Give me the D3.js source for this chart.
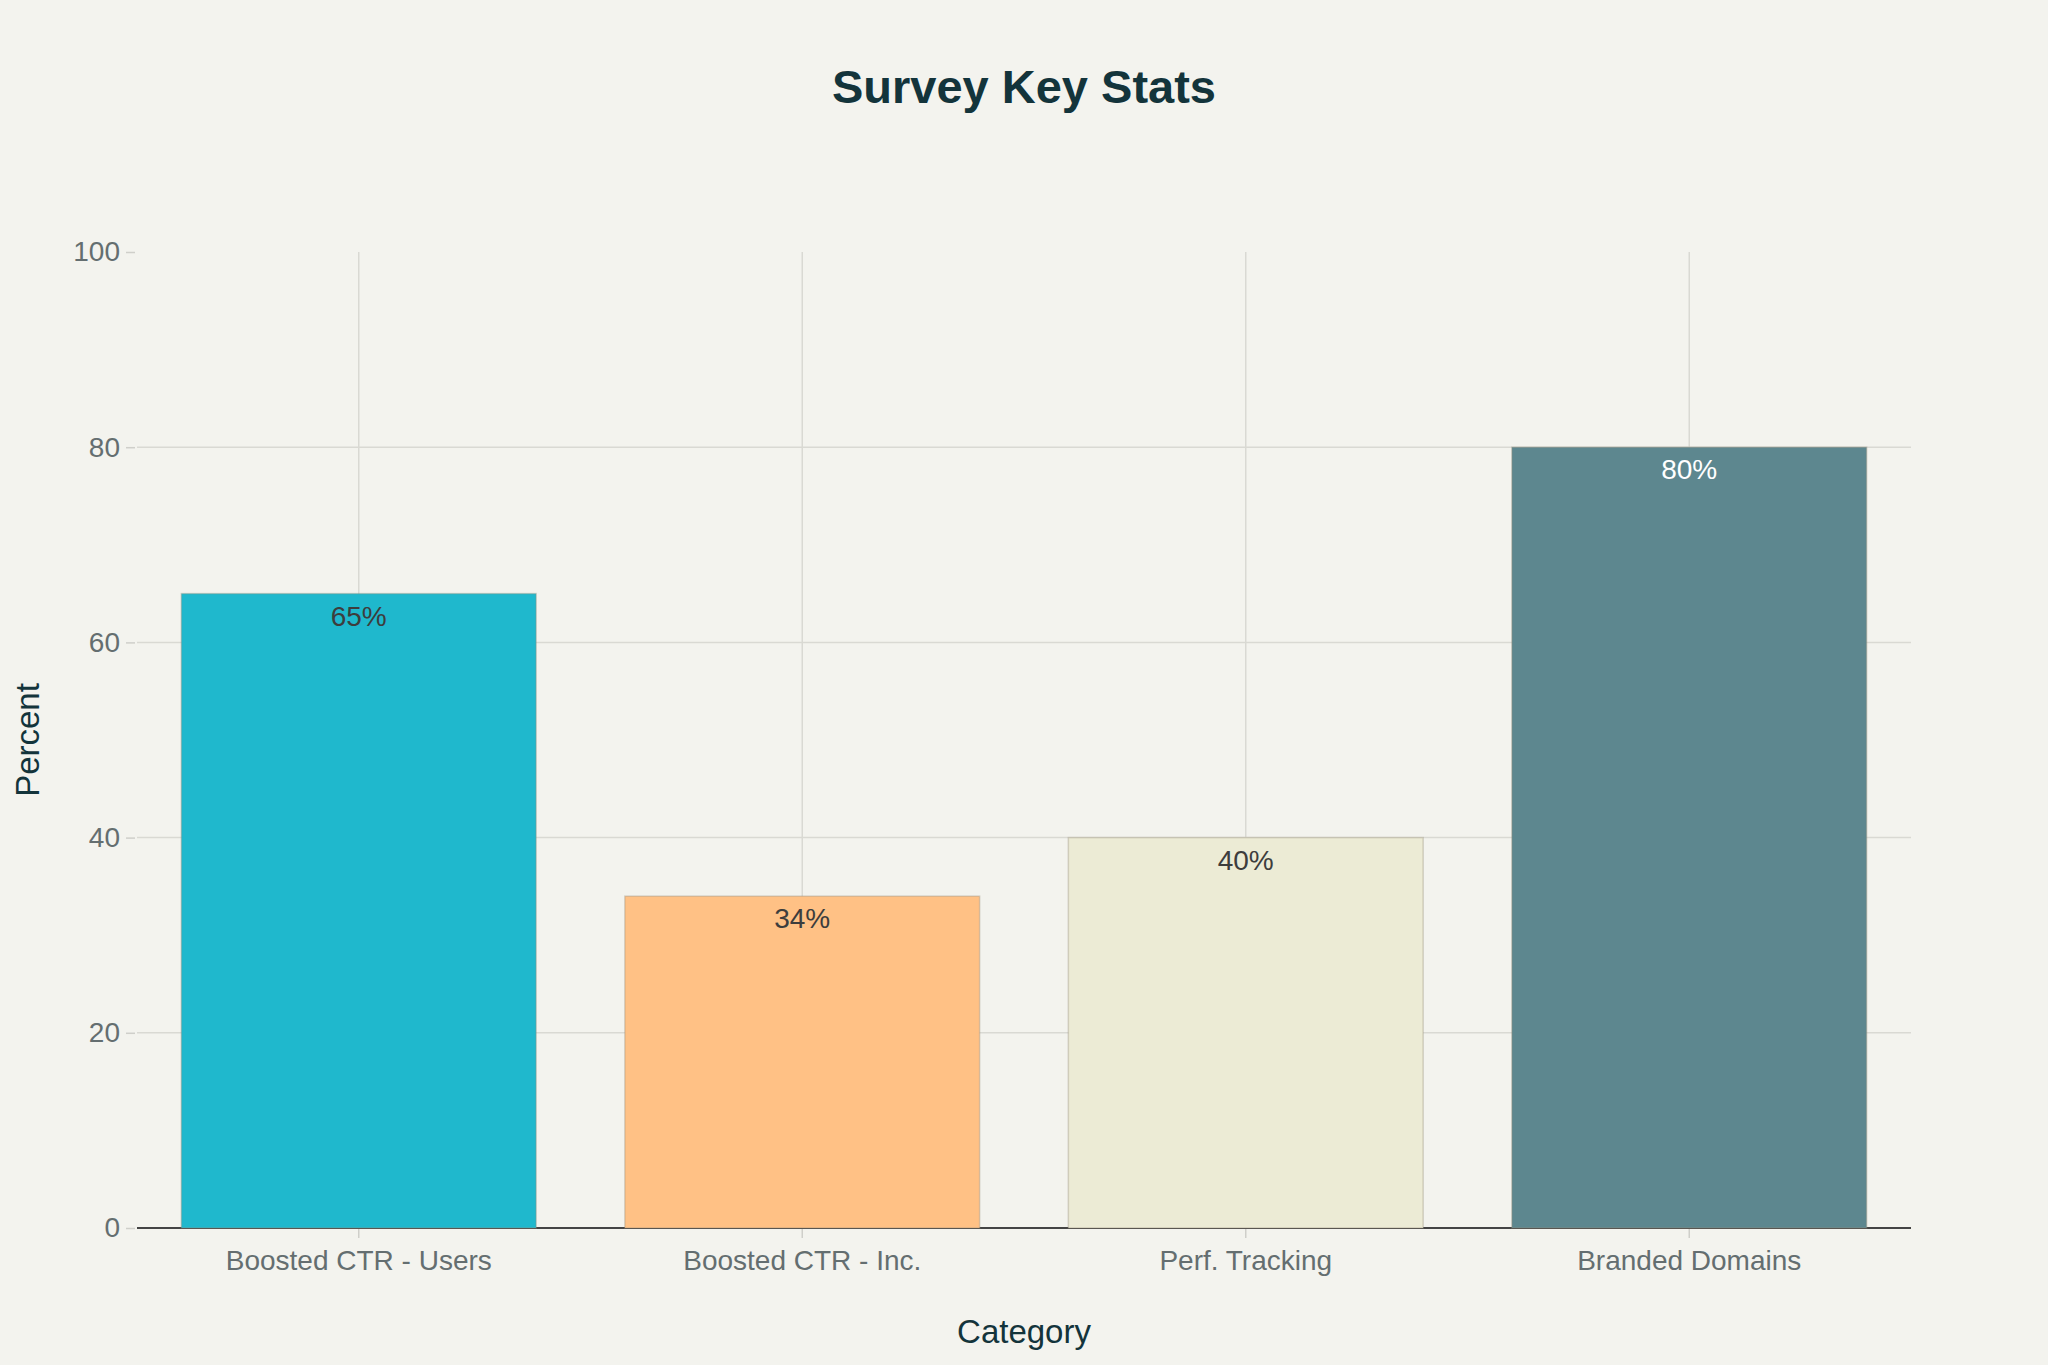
<!DOCTYPE html>
<html>
<head>
<meta charset="utf-8">
<script src="https://cdn.jsdelivr.net/npm/d3@7"></script>
<style>
  html, body { margin: 0; padding: 0; background: #F3F3EE; }
  svg { display: block; font-family: "Liberation Sans", Arial, sans-serif; }
</style>
</head>
<body>
<div id="chart"></div>
<script>
// data
const categories = ['Boosted CTR - Users', 'Boosted CTR - Inc.', 'Perf. Tracking', 'Branded Domains'];
const values = [65, 34, 40, 80];
const barColors = ['#1FB8CD', '#FFC185', '#ECEBD5', '#5D878F'];
const labelColors = ['#3d3d3d', '#3d3d3d', '#3d3d3d', '#ffffff'];
const yTicks = [0, 20, 40, 60, 80, 100];

const W = 2048, H = 1365;
const margin = {top: 252, right: 137, bottom: 137, left: 137};
const width = W - margin.left - margin.right;
const height = H - margin.top - margin.bottom;

const svg = d3.select('#chart')
    .append('svg')
    .attr('width', W)
    .attr('height', H);

svg.append('rect')
    .attr('width', W)
    .attr('height', H)
    .attr('fill', '#F3F3EE');

const g = svg.append('g')
    .attr('transform', `translate(${margin.left},${margin.top})`);

// scales
const x = d3.scaleBand()
    .domain(categories)
    .range([0, width])
    .paddingInner(0.2)
    .paddingOuter(0.1);

const y = d3.scaleLinear()
    .domain([0, 100])
    .range([height, 0]);

// gridlines
g.append('g')
    .selectAll('line')
    .data(yTicks.filter(d => d > 0 && d < 100))
    .enter()
    .append('line')
    .attr('x1', 0)
    .attr('x2', width)
    .attr('y1', d => y(d))
    .attr('y2', d => y(d))
    .attr('stroke', '#d9d9d3')
    .attr('stroke-width', 1.5);

g.append('g')
    .selectAll('line')
    .data(categories)
    .enter()
    .append('line')
    .attr('x1', d => x(d) + x.bandwidth() / 2)
    .attr('x2', d => x(d) + x.bandwidth() / 2)
    .attr('y1', 0)
    .attr('y2', height)
    .attr('stroke', '#d9d9d3')
    .attr('stroke-width', 1.5);

// y axis
const yAxis = g.append('g')
    .attr('transform', 'translate(-2,0)')
    .call(d3.axisLeft(y).tickValues(yTicks).tickSize(9).tickPadding(6));
yAxis.select('.domain').remove();
yAxis.selectAll('.tick line').attr('stroke', '#cfcfca').attr('stroke-width', 1.5);
yAxis.selectAll('.tick text')
    .attr('fill', '#646e70')
    .style('font-size', '28px');

// x axis
const xAxis = g.append('g')
    .attr('transform', `translate(0,${height})`)
    .call(d3.axisBottom(x).tickSize(10).tickPadding(12));
xAxis.select('.domain').remove();
xAxis.selectAll('.tick line').attr('stroke', '#cfcfca').attr('stroke-width', 1.5);
xAxis.selectAll('.tick text')
    .attr('fill', '#646e70')
    .style('font-size', '28px');

// zero line
g.append('line')
    .attr('x1', 0)
    .attr('x2', width)
    .attr('y1', y(0))
    .attr('y2', y(0))
    .attr('stroke', '#444444')
    .attr('stroke-width', 2);

// bars
g.selectAll('.bar')
    .data(values)
    .enter()
    .append('rect')
    .attr('class', 'bar')
    .attr('x', (d, i) => x(categories[i]))
    .attr('y', d => y(d))
    .attr('width', x.bandwidth())
    .attr('height', d => height - y(d))
    .attr('fill', (d, i) => barColors[i])
    .attr('stroke', 'rgba(150,140,120,0.35)')
    .attr('stroke-width', 1.5);

// value labels
g.selectAll('.val')
    .data(values)
    .enter()
    .append('text')
    .attr('class', 'val')
    .attr('x', (d, i) => x(categories[i]) + x.bandwidth() / 2)
    .attr('y', d => y(d) + 32)
    .attr('text-anchor', 'middle')
    .attr('fill', (d, i) => labelColors[i])
    .style('font-size', '28px')
    .text(d => d + '%');

// title
svg.append('text')
    .attr('x', W / 2)
    .attr('y', 103)
    .attr('text-anchor', 'middle')
    .attr('fill', '#13343B')
    .style('font-size', '47px')
    .style('font-weight', 'bold')
    .text('Survey Key Stats');

// axis titles
svg.append('text')
    .attr('x', margin.left + width / 2)
    .attr('y', 1343)
    .attr('text-anchor', 'middle')
    .attr('fill', '#13343B')
    .style('font-size', '33px')
    .text('Category');

svg.append('text')
    .attr('transform', `translate(39,${margin.top + height / 2}) rotate(-90)`)
    .attr('text-anchor', 'middle')
    .attr('fill', '#13343B')
    .style('font-size', '33px')
    .text('Percent');
</script>
</body>
</html>
